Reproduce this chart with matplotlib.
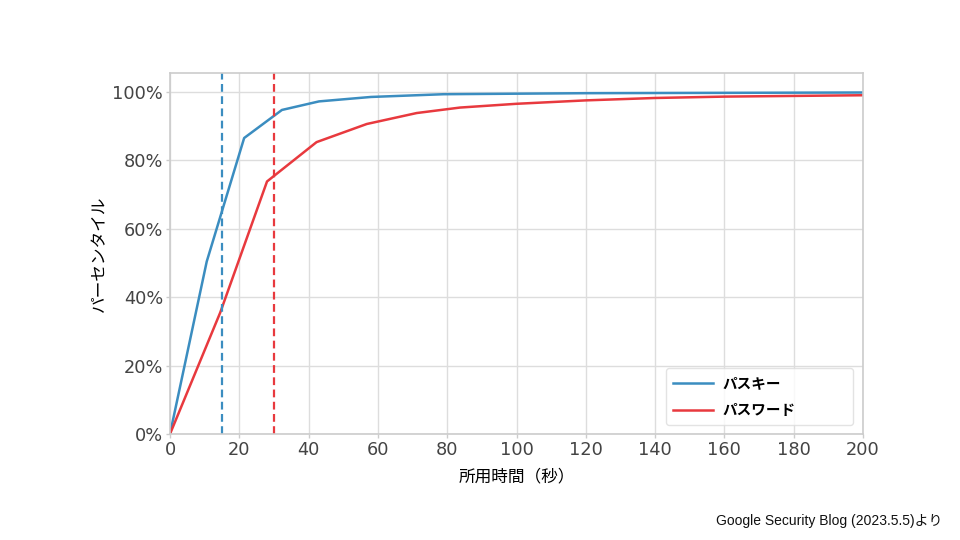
import matplotlib
matplotlib.use("Agg")
import matplotlib.pyplot as plt
from matplotlib.ticker import FuncFormatter

passkey_x = [0, 10.6, 21.4, 32.3, 43, 58, 79, 120, 200]
passkey_y = [0, 50.4, 86.5, 94.7, 97.2, 98.5, 99.3, 99.6, 99.8]
password_x = [0, 14.5, 28, 42.3, 56.8, 71.2, 83.7, 100, 120, 140, 160, 200]
password_y = [0, 35.5, 73.8, 85.3, 90.6, 93.8, 95.4, 96.5, 97.5, 98.2, 98.6, 99.0]
passkey_median = 15
password_median = 30
xticks = [0, 20, 40, 60, 80, 100, 120, 140, 160, 180, 200]
yticks = [0, 20, 40, 60, 80, 100]

blue = "#3b8dc0"
red = "#e8393e"

plt.rcParams['font.family'] = ['DejaVu Sans', 'Noto Sans CJK JP']
fig = plt.figure(figsize=(9.6, 5.4), dpi=100)
ax = fig.add_axes([170/960, 1-434/540, (863-170)/960, (434-73)/540])

ax.plot(passkey_x, passkey_y, color=blue, lw=1.8, label="パスキー")
ax.plot(password_x, password_y, color=red, lw=1.8, label="パスワード")
ax.axvline(passkey_median, color=blue, lw=1.6, ls=(0, (3.5, 2)))
ax.axvline(password_median, color=red, lw=1.6, ls=(0, (3.5, 2)))

ax.set_xlim(0, 200)
ax.set_ylim(0, 105.5)
ax.set_xticks(xticks)
ax.set_yticks(yticks)
ax.yaxis.set_major_formatter(FuncFormatter(lambda v, p: f"{int(v)}%"))
ax.grid(True, color="#dddddd", lw=1)
ax.set_axisbelow(True)
for s in ax.spines.values():
    s.set_color("#cccccc")
    s.set_linewidth(1.2)
ax.tick_params(axis='both', labelsize=12.8, colors="#444444", length=3, width=1,
               color="#cccccc", pad=2)
for lbl in ax.get_xticklabels() + ax.get_yticklabels():
    lbl.set_color("#444444")

ax.set_xlabel("所用時間（秒）", fontsize=12, family=['Noto Sans CJK JP'], labelpad=7)
ax.set_ylabel("パーセンタイル", fontsize=12, family=['Noto Sans CJK JP'], labelpad=3)

leg_x0 = (666 - 170) / 693
leg_w = 187 / 693
leg_y0 = (434 - 425) / 361
leg = ax.legend(loc='lower left', bbox_to_anchor=(leg_x0, leg_y0, leg_w, 0.16), mode='expand',
                prop={'family': 'Noto Sans CJK JP', 'weight': 'bold', 'size': 10.5},
                frameon=True, handlelength=2.7, borderpad=0.5, labelspacing=0.7,
                handletextpad=0.7, borderaxespad=0.0, fancybox=True)
leg.get_frame().set_edgecolor("#dddddd")
leg.get_frame().set_linewidth(1)

fig.text(942/960, 1-521/540, "Google Security Blog (2023.5.5)より", ha='right', va='center',
         fontsize=10, family=['Liberation Sans', 'Noto Sans CJK JP'], color="#111111")

fig.savefig("out.png", dpi=100)
